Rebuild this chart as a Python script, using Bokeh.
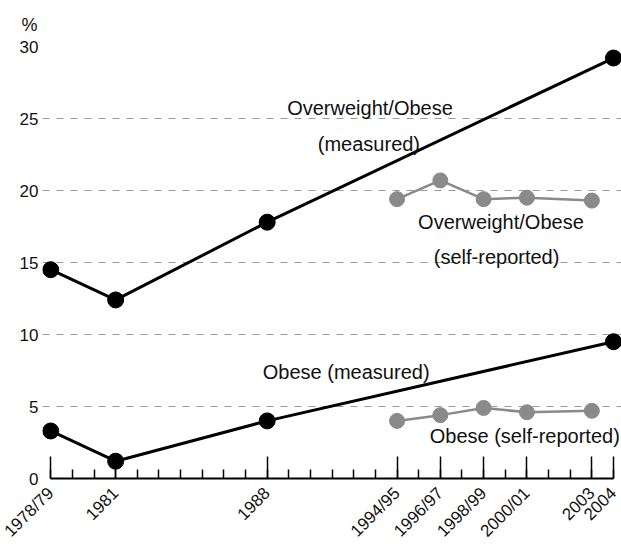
import math
from bokeh.plotting import figure
from bokeh.models import Range1d, FixedTicker, Label, ColumnDataSource, Title
from bokeh.embed import file_html
from bokeh.resources import INLINE

# ---- data ----
tick_years = [1978, 1981, 1988, 1994, 1996, 1998, 2000, 2003, 2004]
tick_labels = ["1978/79", "1981", "1988", "1994/95", "1996/97", "1998/99", "2000/01", "2003", "2004"]
minor_years = list(range(1978, 2005))

measured_years = [1978, 1981, 1988, 2004]
overweight_measured = [14.5, 12.4, 17.8, 29.2]
obese_measured = [3.3, 1.2, 4.0, 9.5]

self_years = [1994, 1996, 1998, 2000, 2003]
overweight_self = [19.4, 20.7, 19.4, 19.5, 19.3]
obese_self = [4.0, 4.4, 4.9, 4.6, 4.7]

y_ticks = [0, 5, 10, 15, 20, 25, 30]
grid_ticks = [5, 10, 15, 20, 25, 30]

FONT = "Liberation Sans"
BLACK = "#000000"
GRAY = "#8a8a8a"
TXT = "#111111"

p = figure(width=621, height=550, output_backend="svg", toolbar_location=None,
           x_range=Range1d(1977.62, 2004.37), y_range=Range1d(0, 30),
           min_border_left=42, min_border_right=0, min_border_top=46, min_border_bottom=72)
p.outline_line_color = None
p.background_fill_color = "white"

p.title = Title(text="%", align="left", offset=-21, standoff=24,
                text_font=FONT, text_font_size="18px", text_font_style="normal", text_color=TXT)

# axes
xa = p.xaxis[0]
xa.ticker = FixedTicker(ticks=tick_years, minor_ticks=minor_years)
xa.major_label_overrides = {y: l for y, l in zip(tick_years, tick_labels)}
xa.major_label_orientation = math.pi / 4
xa.major_label_text_font = FONT
xa.major_label_text_font_size = "17px"
xa.major_label_text_color = TXT
xa.major_tick_in = 22
xa.major_tick_out = 0
xa.minor_tick_in = 9
xa.minor_tick_out = 0
xa.major_tick_line_width = 1.5
xa.minor_tick_line_width = 1.5
xa.axis_line_width = 2
xa.bounds = (1978, 2004)
xa.major_label_standoff = 12

ya = p.yaxis[0]
ya.ticker = FixedTicker(ticks=y_ticks)
ya.axis_line_color = None
ya.major_tick_line_color = None
ya.minor_tick_line_color = None
ya.major_tick_in = 0
ya.major_tick_out = 0
ya.major_label_text_font = FONT
ya.major_label_text_font_size = "17px"
ya.major_label_text_color = TXT
ya.major_label_standoff = 4

p.xgrid.visible = False
p.ygrid[0].ticker = FixedTicker(ticks=grid_ticks)
p.ygrid.grid_line_color = "#9a9a9a"
p.ygrid.grid_line_dash = "7 7"
p.ygrid.grid_line_width = 1

# series
for ys in (overweight_measured, obese_measured):
    src = ColumnDataSource(dict(x=measured_years, y=ys))
    p.line("x", "y", source=src, line_color=BLACK, line_width=3)
    p.scatter("x", "y", source=src, size=16, fill_color=BLACK, line_color=BLACK)

for ys in (overweight_self, obese_self):
    src = ColumnDataSource(dict(x=self_years, y=ys))
    p.line("x", "y", source=src, line_color=GRAY, line_width=2.5)
    p.scatter("x", "y", source=src, size=15, fill_color=GRAY, line_color=GRAY)

# annotations
def lab(x, y, t, size="20px"):
    p.add_layout(Label(x=x, y=y, text=t, text_align="center", text_baseline="middle",
                       text_font=FONT, text_font_size=size, text_color=TXT))

lab(1992.75, 25.75, "Overweight/Obese")
lab(1992.7, 23.25, "(measured)")
lab(1998.8, 17.8, "Overweight/Obese")
lab(1998.6, 15.35, "(self-reported)")
lab(1991.65, 7.4, "Obese (measured)")
lab(1999.9, 2.92, "Obese (self-reported)")

open("out.html", "w").write(file_html(p, INLINE))
